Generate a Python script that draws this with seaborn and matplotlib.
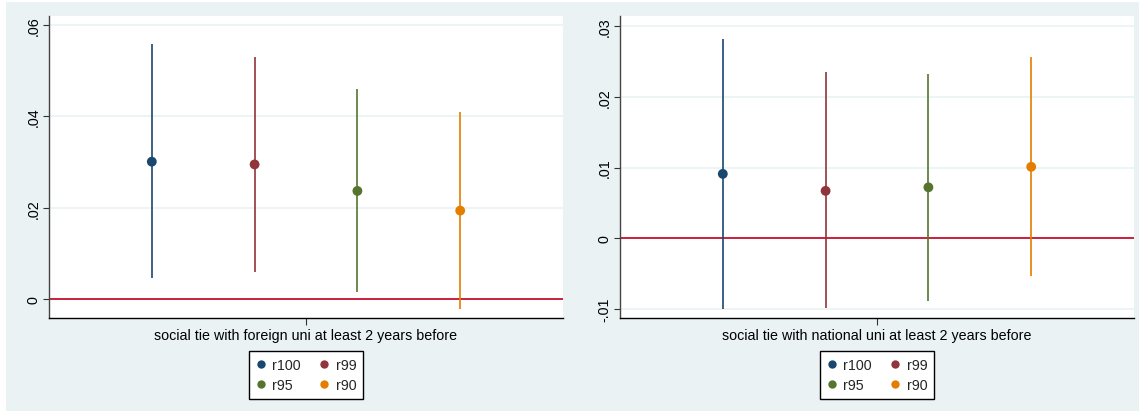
import numpy as np
import pandas as pd
import seaborn as sns
import matplotlib
matplotlib.use("Agg")
import matplotlib.pyplot as plt
from matplotlib.patches import Rectangle
from matplotlib.ticker import FuncFormatter

sns.set_theme(style="white")
plt.rcParams['font.family'] = ['Liberation Sans', 'DejaVu Sans']

models = ['r100', 'r99', 'r95', 'r90']
colors = ['#1a476f', '#90353b', '#55752f', '#e37e00']

# social tie with foreign uni (left)
foreign_coef = [0.0301, 0.0295, 0.0237, 0.0194]
foreign_lo = [0.0046, 0.0060, 0.0015, -0.0021]
foreign_hi = [0.0559, 0.0530, 0.0460, 0.0409]
foreign_ticks = [0, 0.02, 0.04, 0.06]

# social tie with national uni (right)
national_coef = [0.0091, 0.0067, 0.0072, 0.0101]
national_lo = [-0.0100, -0.0099, -0.0088, -0.0053]
national_hi = [0.0282, 0.0235, 0.0232, 0.0256]
national_ticks = [-0.01, 0, 0.01, 0.02, 0.03]

labels = ['social tie with foreign uni at least 2 years before',
          'social tie with national uni at least 2 years before']

FS = 10.3


def stata_fmt(v, pos):
    s = f"{v:g}"
    if s.startswith('0.'):
        s = s[1:]
    elif s.startswith('-0.'):
        s = '-' + s[2:]
    return s


W, H = 1139, 414
fig = plt.figure(figsize=(W / 100, H / 100), dpi=100, facecolor='white')
fig.patches.append(Rectangle((6 / W, 2 / H), 1 - 6 / W, 1 - 5 / H,
                             transform=fig.transFigure, facecolor='#eaf2f3',
                             edgecolor='none', zorder=-10))

panels = [
    (49, labels[0], foreign_coef, foreign_lo, foreign_hi, foreign_ticks, (-0.00416, 0.0619)),
    (620, labels[1], national_coef, national_lo, national_hi, national_ticks, (-0.0113, 0.03136)),
]

for left_px, label, coef, lo, hi, yticks, ylim in panels:
    ax = fig.add_axes([left_px / W, 1 - 319.3 / H, 514 / W, 302 / H])
    ax.set_facecolor('white')
    df = pd.DataFrame({'model': models, 'pos': [1, 2, 3, 4],
                       'coef': coef, 'lo': lo, 'hi': hi})
    ax.yaxis.grid(True, color='#eaf2f3', lw=1.2)
    ax.set_axisbelow(True)
    ax.axhline(0, color='#c8102e', lw=1.3, zorder=1.5)
    ax.vlines(df['pos'], df['lo'], df['hi'], colors=colors, lw=1.2, zorder=2)
    sns.scatterplot(data=df, x='pos', y='coef', hue='model', hue_order=models,
                    palette=colors, s=50, linewidth=0, ax=ax, zorder=3)
    ax.set_xlim(0, 5)
    ax.set_ylim(*ylim)
    ax.set_xticks([2.5])
    ax.set_xticklabels([label], fontsize=FS)
    ax.set_yticks(yticks)
    ax.yaxis.set_major_formatter(FuncFormatter(stata_fmt))
    ax.set_xlabel('')
    ax.set_ylabel('')
    ax.tick_params(axis='y', left=True, length=4, width=0.8, color='#333333',
                   pad=2, labelsize=FS, labelcolor='black')
    ax.tick_params(axis='x', bottom=True, length=5, width=0.8, color='#333333',
                   pad=2, labelcolor='black')
    plt.setp(ax.get_yticklabels(), rotation=90, va='center')
    for side in ['top', 'right']:
        ax.spines[side].set_visible(False)
    ax.spines['left'].set_color('#444444')
    ax.spines['left'].set_linewidth(1.0)
    ax.spines['bottom'].set_color('black')
    ax.spines['bottom'].set_linewidth(1.0)

    h, l = ax.get_legend_handles_labels()
    order = [0, 2, 1, 3]
    ax.legend([h[i] for i in order], [l[i] for i in order], ncol=2,
              loc='upper center', bbox_to_anchor=(0.5, -0.109),
              frameon=True, fancybox=False, edgecolor='black',
              facecolor='white', framealpha=1, fontsize=FS,
              handlelength=0.7, handletextpad=0.45, columnspacing=1.3,
              labelspacing=0.45, borderpad=0.45, borderaxespad=0,
              markerscale=0.85)
    ax.get_legend().get_frame().set_linewidth(1.0)

fig.savefig('out.png', dpi=100, facecolor='white')
